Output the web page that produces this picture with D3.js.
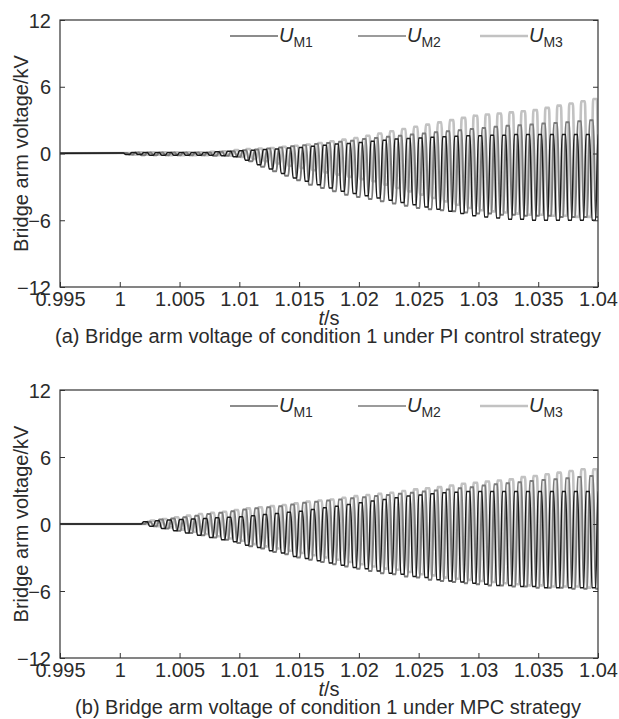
<!DOCTYPE html>
<html>
<head>
<meta charset="utf-8">
<script src="https://cdn.jsdelivr.net/npm/d3@7"></script>
<style>
  body { margin: 0; background: #fff; }
  svg { display: block; font-family: "Liberation Sans", Arial, sans-serif; }
</style>
</head>
<body>
<svg id="chart" width="619" height="719"></svg>
<script>
// cycle start times (s), one per ~1 ms oscillation period
const cycleStart = [
  1.000, 1.001, 1.002, 1.003, 1.004, 1.005, 1.006, 1.007, 1.008, 1.009,
  1.010, 1.011, 1.012, 1.013, 1.014, 1.015, 1.016, 1.017, 1.018, 1.019,
  1.020, 1.021, 1.022, 1.023, 1.024, 1.025, 1.026, 1.027, 1.028, 1.029,
  1.030, 1.031, 1.032, 1.033, 1.034, 1.035, 1.036, 1.037, 1.038, 1.039,
];
const period = 0.001;

const seriesNames = ["M1", "M2", "M3"];
const seriesPhase = [0, 0.3, 0.6]; // fraction of period

const xTicks = [0.995, 1, 1.005, 1.01, 1.015, 1.02, 1.025, 1.03, 1.035, 1.04];
const yTicks = [-12, -6, 0, 6, 12];

// (a) PI control: per-cycle peak / trough (kV)
const piM1Hi = [
  0.05, 0.1, 0.1, 0.1, 0.1, 0.1, 0.1, 0.1, 0.15, 0.2,
  0.25, 0.3, 0.35, 0.4, 0.5, 0.55, 0.65, 0.75, 0.85, 0.9,
  1.0, 1.1, 1.2, 1.3, 1.35, 1.4, 1.45, 1.5, 1.55, 1.6,
  1.6, 1.65, 1.65, 1.7, 1.7, 1.7, 1.7, 1.7, 1.7, 1.7,
];
const piM1Lo = [
  -0.1, -0.1, -0.15, -0.15, -0.15, -0.15, -0.15, -0.15, -0.2, -0.3,
  -0.6, -1.0, -1.4, -1.8, -2.2, -2.5, -2.8, -3.1, -3.4, -3.6,
  -3.8, -4.0, -4.2, -4.4, -4.6, -4.8, -5.0, -5.2, -5.4, -5.6,
  -5.7, -5.8, -5.9, -5.9, -6.0, -6.0, -6.0, -6.0, -6.0, -6.0,
];
const piM2Hi = [
  0.05, 0.1, 0.1, 0.1, 0.1, 0.1, 0.1, 0.1, 0.15, 0.2,
  0.3, 0.35, 0.45, 0.55, 0.65, 0.75, 0.85, 0.95, 1.05, 1.15,
  1.3, 1.4, 1.5, 1.6, 1.7, 1.8, 1.9, 2.0, 2.1, 2.2,
  2.3, 2.4, 2.5, 2.55, 2.6, 2.7, 2.75, 2.8, 2.9, 3.0,
];
const piM2Lo = [
  -0.1, -0.15, -0.15, -0.15, -0.15, -0.15, -0.15, -0.2, -0.2, -0.3,
  -0.7, -1.2, -1.6, -2.0, -2.4, -2.8, -3.1, -3.4, -3.7, -3.9,
  -4.1, -4.3, -4.5, -4.7, -4.9, -5.0, -5.1, -5.2, -5.3, -5.4,
  -5.4, -5.5, -5.5, -5.6, -5.6, -5.6, -5.7, -5.7, -5.7, -5.7,
];
const piM3Hi = [
  0.05, 0.1, 0.1, 0.1, 0.1, 0.1, 0.1, 0.15, 0.2, 0.3,
  0.4, 0.45, 0.5, 0.6, 0.7, 0.8, 0.95, 1.1, 1.25, 1.4,
  1.6, 1.8, 2.0, 2.2, 2.4, 2.6, 2.8, 3.0, 3.2, 3.4,
  3.5, 3.6, 3.7, 3.8, 3.9, 4.1, 4.3, 4.5, 4.7, 4.9,
];
const piM3Lo = [
  -0.1, -0.1, -0.1, -0.15, -0.15, -0.15, -0.15, -0.15, -0.2, -0.3,
  -0.5, -0.7, -0.9, -1.1, -1.3, -1.5, -1.7, -1.9, -2.1, -2.3,
  -2.5, -2.8, -3.1, -3.4, -3.7, -4.0, -4.3, -4.6, -4.9, -5.1,
  -5.2, -5.3, -5.4, -5.5, -5.5, -5.6, -5.6, -5.7, -5.7, -5.7,
];

// (b) MPC: per-cycle peak / trough (kV)
const mpcM1Hi = [
  0, 0, 0.2, 0.3, 0.35, 0.4, 0.45, 0.5, 0.55, 0.6,
  0.65, 0.75, 0.85, 0.95, 1.05, 1.15, 1.3, 1.45, 1.6, 1.75,
  1.9, 2.05, 2.2, 2.35, 2.5, 2.6, 2.7, 2.8, 2.85, 2.9,
  2.9, 2.9, 2.9, 2.9, 2.9, 2.9, 2.9, 2.9, 2.9, 2.9,
];
const mpcM1Lo = [
  0, 0, -0.2, -0.4, -0.6, -0.8, -1.0, -1.2, -1.4, -1.6,
  -1.9, -2.1, -2.4, -2.6, -2.9, -3.1, -3.3, -3.5, -3.7, -3.9,
  -4.0, -4.2, -4.4, -4.5, -4.7, -4.8, -5.0, -5.1, -5.2, -5.3,
  -5.4, -5.5, -5.5, -5.6, -5.6, -5.7, -5.7, -5.7, -5.7, -5.7,
];
const mpcM2Hi = [
  0, 0, 0.2, 0.4, 0.5, 0.6, 0.75, 0.9, 1.0, 1.15,
  1.3, 1.4, 1.5, 1.6, 1.75, 1.9, 2.0, 2.1, 2.2, 2.3,
  2.4, 2.5, 2.6, 2.7, 2.8, 2.9, 3.0, 3.1, 3.2, 3.3,
  3.45, 3.55, 3.65, 3.75, 3.85, 3.95, 4.0, 4.1, 4.2, 4.3,
];
const mpcM2Lo = [
  0, 0, -0.2, -0.4, -0.6, -0.8, -1.0, -1.2, -1.4, -1.7,
  -2.0, -2.2, -2.5, -2.7, -3.0, -3.2, -3.4, -3.6, -3.8, -4.0,
  -4.2, -4.4, -4.5, -4.7, -4.8, -5.0, -5.1, -5.2, -5.3, -5.4,
  -5.5, -5.5, -5.6, -5.6, -5.7, -5.7, -5.7, -5.8, -5.8, -5.8,
];
const mpcM3Hi = [
  0, 0, 0.3, 0.45, 0.6, 0.75, 0.9, 1.0, 1.1, 1.25,
  1.4, 1.5, 1.6, 1.7, 1.85, 2.0, 2.1, 2.2, 2.35, 2.5,
  2.6, 2.7, 2.8, 2.95, 3.1, 3.2, 3.3, 3.45, 3.6, 3.7,
  3.8, 3.9, 4.0, 4.2, 4.3, 4.45, 4.6, 4.75, 4.9, 4.9,
];
const mpcM3Lo = [
  0, 0, -0.2, -0.3, -0.5, -0.7, -0.9, -1.1, -1.3, -1.5,
  -1.8, -2.0, -2.2, -2.4, -2.6, -2.8, -3.0, -3.2, -3.4, -3.6,
  -3.8, -4.0, -4.1, -4.3, -4.5, -4.6, -4.8, -4.9, -5.0, -5.1,
  -5.2, -5.3, -5.4, -5.5, -5.5, -5.6, -5.6, -5.6, -5.7, -5.7,
];

const lineColors = ["#1a1a1a", "#7a7a7a", "#c2c2c2"];
const lineWidths = [1.5, 2.0, 2.6];
const axisColor = "#333";
const textColor = "#2b2b2b";
const fontSize = 20;

const svg = d3.select("#chart");

/**
 * Builds the point list of one waveform: flat zero before the first
 * cycle, then a trapezoid per cycle (flat peak, edge, flat trough, edge)
 */
function buildWave(hi, lo, phase) {
  const pts = [[0.99, 0]];
  cycleStart.forEach((t, i) => {
    const t0 = t + phase * period;
    pts.push([t0, hi[i]]);
    pts.push([t0 + 0.3 * period, hi[i]]);
    pts.push([t0 + 0.5 * period, lo[i]]);
    pts.push([t0 + 0.8 * period, lo[i]]);
  });
  const last = cycleStart.length - 1;
  pts.push([cycleStart[last] + (1 + phase) * period, hi[last]]);
  pts.push([cycleStart[last] + (1.3 + phase) * period, hi[last]]);
  return pts;
}

/**
 * Draws one panel: frame, ticks, waveforms, legend and captions
 */
function drawPanel(top, bottom, waves, caption, id) {
  const left = 60;
  const right = 598;
  const x = d3.scaleLinear().domain([0.995, 1.04]).range([left, right]);
  const y = d3.scaleLinear().domain([-12, 12]).range([bottom, top]);
  const g = svg.append("g");

  g.append("clipPath")
    .attr("id", "clip-" + id)
    .append("rect")
    .attr("x", left)
    .attr("y", top)
    .attr("width", right - left)
    .attr("height", bottom - top);

  const line = d3
    .line()
    .x((d) => x(d[0]))
    .y((d) => y(d[1]))
    .curve(d3.curveMonotoneX);

  // light series first so the black one stays on top
  const plot = g.append("g").attr("clip-path", "url(#clip-" + id + ")");
  for (let s = 2; s >= 0; s--) {
    plot
      .append("path")
      .attr("d", line(buildWave(waves[s][0], waves[s][1], seriesPhase[s])))
      .style("fill", "none")
      .style("stroke", lineColors[s])
      .style("stroke-width", lineWidths[s]);
  }

  // axes with inward ticks
  const yAxisL = d3.axisLeft(y).tickValues(yTicks).tickSizeInner(-5).tickSizeOuter(0).tickPadding(9);
  const yAxisR = d3.axisRight(y).tickValues(yTicks).tickSizeInner(-5).tickSizeOuter(0).tickFormat("");
  const xAxisB = d3.axisBottom(x).tickValues(xTicks).tickSizeInner(-5).tickSizeOuter(0)
    .tickFormat((d) => String(+d.toFixed(3)));

  const gl = g.append("g").attr("transform", "translate(" + left + ",0)").call(yAxisL);
  const gr = g.append("g").attr("transform", "translate(" + right + ",0)").call(yAxisR);
  const gb = g.append("g").attr("transform", "translate(0," + bottom + ")").call(xAxisB);

  [gl, gr, gb].forEach((a) => {
    a.select(".domain").remove();
    a.selectAll("line").style("stroke", axisColor).style("stroke-width", 1);
    a.selectAll("text")
      .style("font-size", fontSize + "px")
      .style("fill", textColor)
      .style("font-family", "Liberation Sans, Arial, sans-serif");
  });
  gb.selectAll("text").attr("dy", "0.72em").attr("y", 5);
  gl.selectAll("text").attr("dy", "0.36em");

  g.append("rect")
    .attr("x", left)
    .attr("y", top)
    .attr("width", right - left)
    .attr("height", bottom - top)
    .style("fill", "none")
    .style("stroke", axisColor)
    .style("stroke-width", 1.2);

  // legend
  const legendX = [230, 358, 480];
  const legendY = top + 16;
  seriesNames.forEach((name, i) => {
    g.append("line")
      .attr("x1", legendX[i])
      .attr("x2", legendX[i] + 48)
      .attr("y1", legendY)
      .attr("y2", legendY)
      .style("stroke", lineColors[i])
      .style("stroke-width", lineWidths[i] - 0.3);
    const t = g.append("text")
      .attr("x", legendX[i] + 49)
      .attr("y", legendY + 6)
      .style("font-size", fontSize + "px")
      .style("fill", textColor);
    t.append("tspan").style("font-style", "italic").text("U");
    t.append("tspan").attr("dy", 5).style("font-size", "14px").text(name);
  });

  // y label
  g.append("text")
    .attr("transform", "translate(28," + (top + bottom) / 2 + ") rotate(-90)")
    .attr("text-anchor", "middle")
    .style("font-size", fontSize + "px")
    .style("fill", textColor)
    .text("Bridge arm voltage/kV");

  // x label
  const xl = g.append("text")
    .attr("x", (left + right) / 2)
    .attr("y", bottom + 38)
    .attr("text-anchor", "middle")
    .style("font-size", fontSize + "px")
    .style("fill", textColor);
  xl.append("tspan").style("font-style", "italic").text("t");
  xl.append("tspan").text("/s");

  g.append("text")
    .attr("x", 328)
    .attr("y", bottom + 56)
    .attr("text-anchor", "middle")
    .style("font-size", fontSize + "px")
    .style("fill", textColor)
    .text(caption);
}

drawPanel(
  20,
  287,
  [[piM1Hi, piM1Lo], [piM2Hi, piM2Lo], [piM3Hi, piM3Lo]],
  "(a) Bridge arm voltage of condition 1 under PI control strategy",
  "a"
);
drawPanel(
  390,
  658,
  [[mpcM1Hi, mpcM1Lo], [mpcM2Hi, mpcM2Lo], [mpcM3Hi, mpcM3Lo]],
  "(b) Bridge arm voltage of condition 1 under MPC strategy",
  "b"
);
</script>
</body>
</html>
